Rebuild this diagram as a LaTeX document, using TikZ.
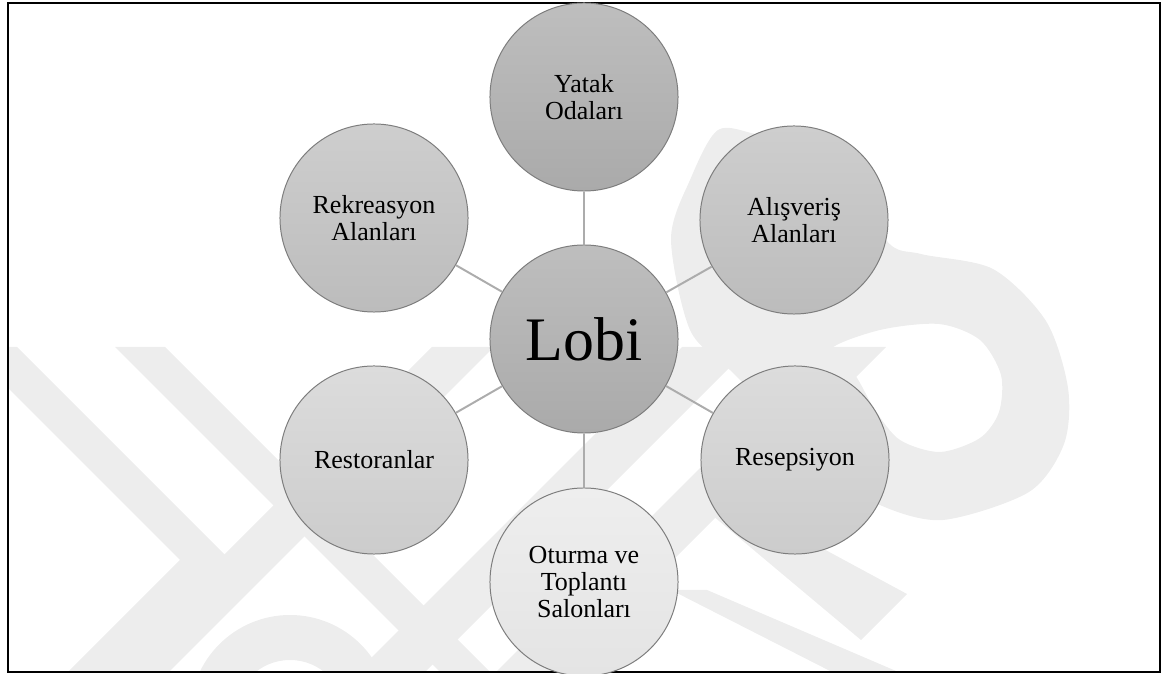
\documentclass[tikz,border=0pt]{standalone}
\usepackage{fontspec}
\setmainfont{Liberation Serif}
\usetikzlibrary{shadings}
\definecolor{wmgray}{RGB}{237,237,237}
\definecolor{ringline}{RGB}{125,125,125}
\definecolor{linkgray}{RGB}{172,172,172}

\begin{document}
\begin{tikzpicture}[x=0.025cm,y=0.025cm,
    bubble/.style={circle,draw=ringline,line width=0.7pt,minimum size=4.7cm,inner sep=0pt,
      align=center,font=\fontsize{18.5}{19.5}\selectfont},
    darkbubble/.style={bubble,top color={rgb,255:red,190;green,190;blue,190},bottom color={rgb,255:red,170;green,170;blue,170}},
    midbubble/.style={bubble,top color={rgb,255:red,206;green,206;blue,206},bottom color={rgb,255:red,188;green,188;blue,188}},
    lightbubble/.style={bubble,top color={rgb,255:red,220;green,220;blue,220},bottom color={rgb,255:red,204;green,204;blue,204}},
    palebubble/.style={bubble,top color={rgb,255:red,238;green,238;blue,238},bottom color={rgb,255:red,228;green,228;blue,228}},
    link/.style={draw=linkgray,line width=1.4pt}]
    \useasboundingbox (0,0) rectangle (1167,-674);

    % watermark
    \begin{scope}
        \clip (8,-3) rectangle (1160,-672);
        \fill[wmgray] (-33,-347) -- (17,-347) -- (230,-560) -- (117,-673) -- (67,-673) -- (180,-560) -- cycle;
        \fill[wmgray] (115,-347) -- (165,-347) -- (491,-673) -- (441,-673) -- cycle;
        \fill[wmgray] (432,-347) -- (494,-347) -- (168,-673) -- (106,-673) -- cycle;
        \fill[wmgray] (682,-347) -- (750,-347) -- (424,-673) -- (356,-673) -- cycle;
        \fill[wmgray] (821,-347) -- (886,-347) -- (560,-673) -- (495,-673) -- cycle;
        \fill[wmgray] (700,-505) -- (770,-520) -- (907,-594) -- (861,-640) -- cycle;
        \fill[wmgray] (671,-590) -- (707,-590) -- (903,-674) -- (836,-674) -- cycle;
        \fill[wmgray,even odd rule]
            plot[smooth cycle] coordinates {(671,-239) (690,-180) (718,-130) (760,-135) (835,-150)
              (886,-240) (921,-254) (993,-269) (1046,-321) (1068,-388) (1064,-444) (1029,-492)
              (943,-520) (880,-505) (830,-470) (780,-420) (730,-370) (690,-330)}
            plot[smooth cycle] coordinates {(830,-350) (880,-330) (939,-324) (980,-340) (1001,-375)
              (999,-412) (980,-438) (940,-452) (900,-440) (875,-410) (855,-375)};
        \fill[wmgray,even odd rule] (290,-715) circle (100) (290,-715) circle (55);
    \end{scope}

    % border
    \draw[line width=1.2pt] (8,-3) rectangle (1160,-672);

    % bubbles
    \node[darkbubble,font=\fontsize{44}{48}\selectfont] (lobi) at (584,-339) {Lobi};
    \node[darkbubble] (yatak) at (584,-97) {Yatak\\Odaları};
    \node[midbubble] (alisveris) at (794,-220) {Alışveriş\\Alanları};
    \node[lightbubble] (resepsiyon) at (795,-460) {Resepsiyon};
    \node[palebubble] (oturma) at (584,-582) {Oturma ve\\Toplantı\\Salonları};
    \node[lightbubble] (restoran) at (374,-460) {Restoranlar};
    \node[midbubble] (rekreasyon) at (374,-218) {Rekreasyon\\Alanları};

    % links
    \foreach \n in {yatak,alisveris,resepsiyon,oturma,restoran,rekreasyon}
        \draw[link] (lobi) -- (\n);
\end{tikzpicture}
\end{document}
